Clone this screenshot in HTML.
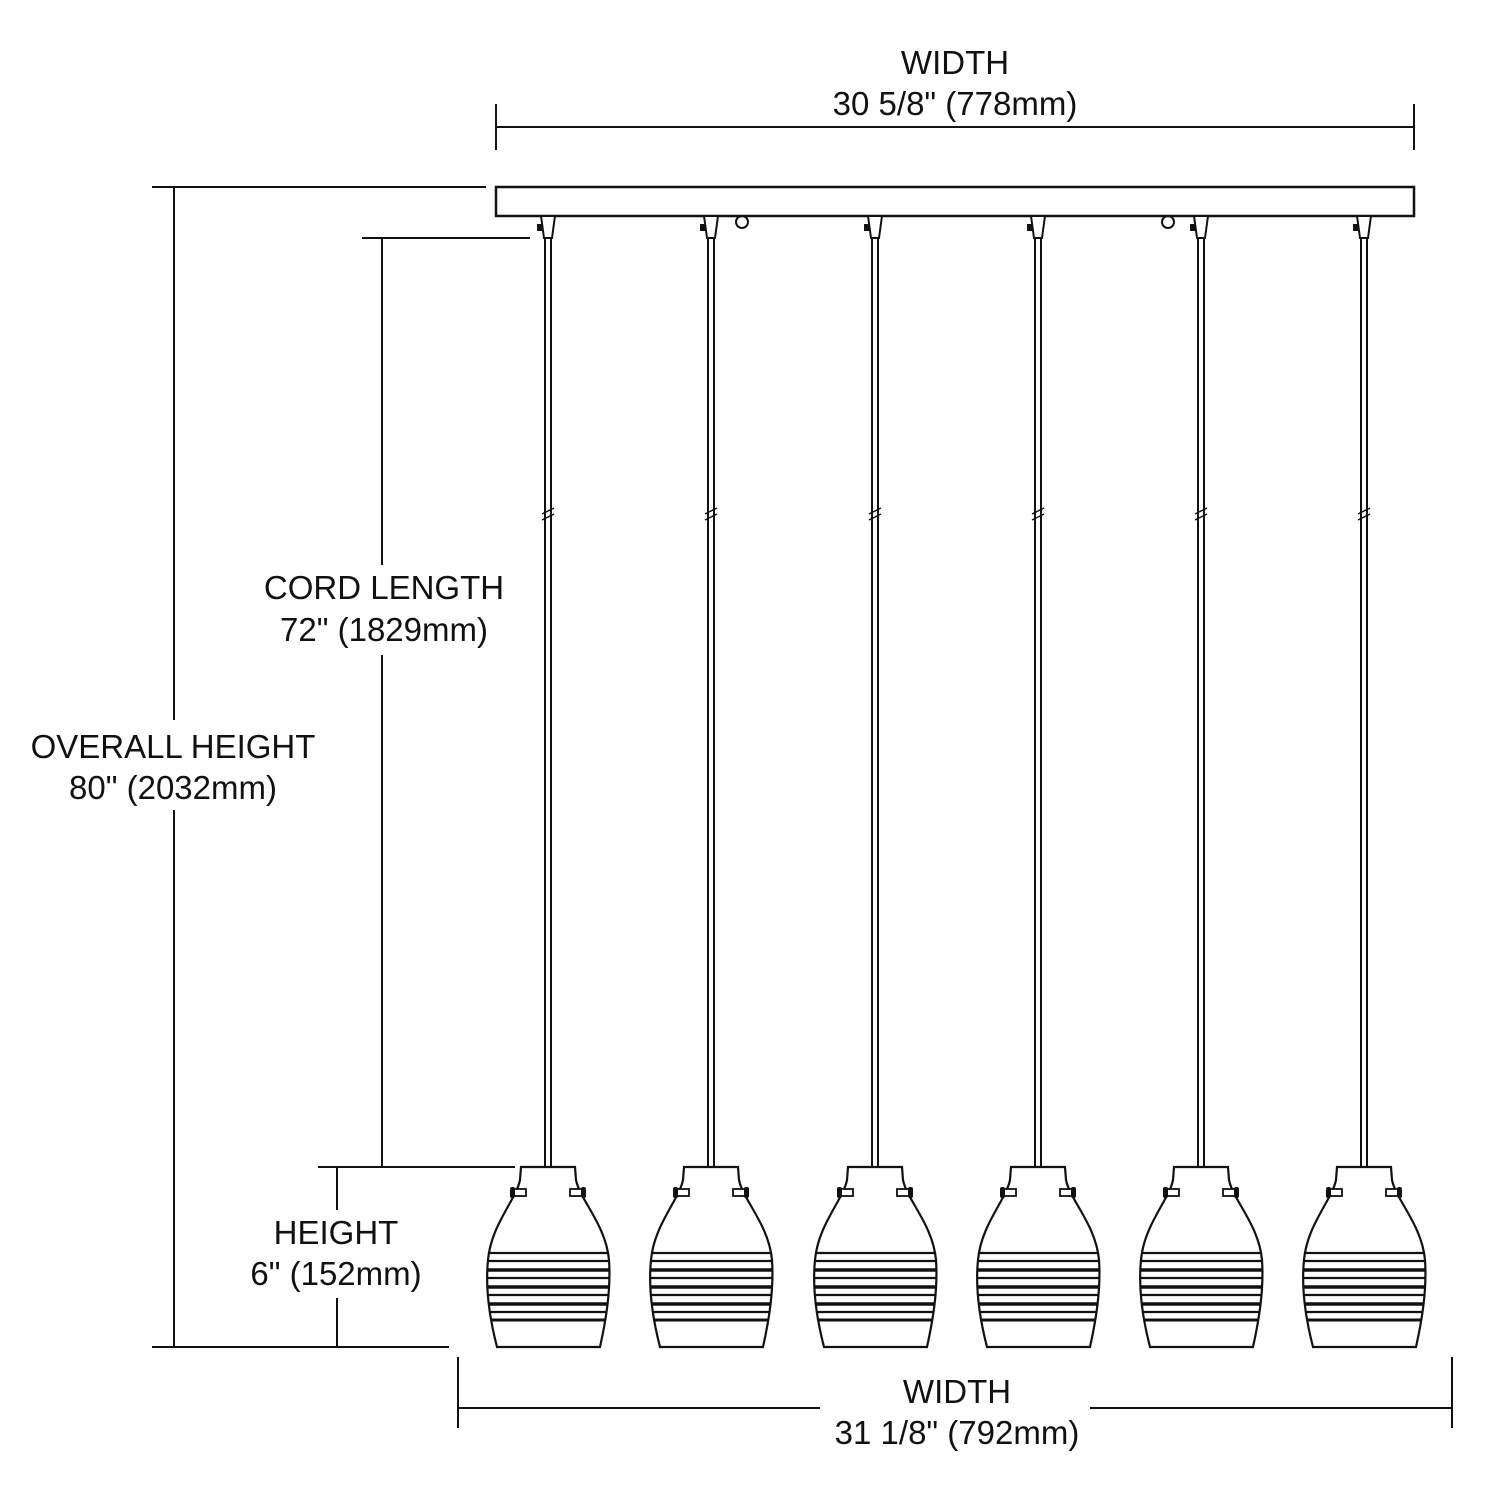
<!DOCTYPE html>
<html><head><style>
html,body{margin:0;padding:0;background:#fff}
svg{display:block}
text{font-family:"Liberation Sans",sans-serif;font-size:33px;fill:#111;text-anchor:middle}
</style></head><body>
<svg width="1485" height="1500" viewBox="0 0 1485 1500" xmlns="http://www.w3.org/2000/svg">
<defs>
<clipPath id="sc"><path d="M-27,1167 L27,1167 L28,1180 C32,1200 58,1225 61,1260 C63,1290 58,1320 52,1347 L-51,1347 C-58,1320 -63,1290 -60,1260 C-57,1225 -32,1200 -28,1180 Z"/></clipPath>
<g id="p" stroke="#111" fill="none">
  <path d="M-7,216 L7,216 L4,238 L-4,238 Z" stroke-width="2" fill="#fff"/>
  <rect x="-11" y="224" width="5" height="7" fill="#111" stroke="none"/>
  <line x1="-3" y1="238" x2="-3" y2="1167" stroke-width="2"/>
  <line x1="3" y1="238" x2="3" y2="1167" stroke-width="2"/>
  <line x1="-6" y1="514" x2="6" y2="508" stroke-width="1.5"/>
  <line x1="-6" y1="520" x2="6" y2="514" stroke-width="1.5"/>
  <g clip-path="url(#sc)">
    <g stroke-width="2.2">
      <line x1="-70" x2="70" y1="1253" y2="1253"/>
      <line x1="-70" x2="70" y1="1261" y2="1261"/>
      <line x1="-70" x2="70" y1="1270" y2="1270" stroke-width="3.5"/>
      <line x1="-70" x2="70" y1="1278" y2="1278"/>
      <line x1="-70" x2="70" y1="1287" y2="1287" stroke-width="3.5"/>
      <line x1="-70" x2="70" y1="1295" y2="1295"/>
      <line x1="-70" x2="70" y1="1304" y2="1304" stroke-width="3.5"/>
      <line x1="-70" x2="70" y1="1312" y2="1312"/>
      <line x1="-70" x2="70" y1="1320" y2="1320" stroke-width="3"/>
    </g>
  </g>
  <path d="M-27,1167 L27,1167 L28,1180 C32,1200 58,1225 61,1260 C63,1290 58,1320 52,1347 L-51,1347 C-58,1320 -63,1290 -60,1260 C-57,1225 -32,1200 -28,1180 Z" stroke-width="2.2"/>
  <rect x="-34" y="1189" width="12" height="7" fill="#fff" stroke-width="1.8"/>
  <rect x="-38" y="1187" width="5" height="11" rx="2" fill="#111" stroke="none"/>
  <rect x="22" y="1189" width="12" height="7" fill="#fff" stroke-width="1.8"/>
  <rect x="33" y="1187" width="5" height="11" rx="2" fill="#111" stroke="none"/>
</g>
</defs>
<g stroke="#111" stroke-width="2" fill="none">
  <rect x="496" y="187" width="918" height="29" stroke-width="2.5" fill="#fff"/>
  <circle cx="742" cy="222" r="6"/>
  <circle cx="1168" cy="222" r="6"/>
  <line x1="496" y1="127" x2="1414" y2="127"/>
  <line x1="496" y1="104" x2="496" y2="150"/>
  <line x1="1414" y1="104" x2="1414" y2="150"/>
  <line x1="152" y1="187" x2="486" y2="187"/>
  <line x1="152" y1="1347" x2="449" y2="1347"/>
  <line x1="174" y1="187" x2="174" y2="720"/>
  <line x1="174" y1="810" x2="174" y2="1347"/>
  <line x1="362" y1="238" x2="530" y2="238"/>
  <line x1="318" y1="1167" x2="515" y2="1167"/>
  <line x1="382" y1="238" x2="382" y2="565"/>
  <line x1="382" y1="655" x2="382" y2="1167"/>
  <line x1="337" y1="1167" x2="337" y2="1210"/>
  <line x1="337" y1="1298" x2="337" y2="1347"/>
  <line x1="458" y1="1357" x2="458" y2="1428"/>
  <line x1="1452" y1="1357" x2="1452" y2="1428"/>
  <line x1="458" y1="1408" x2="820" y2="1408"/>
  <line x1="1090" y1="1408" x2="1452" y2="1408"/>
</g>
<use href="#p" transform="translate(548,0)"/>
<use href="#p" transform="translate(711,0)"/>
<use href="#p" transform="translate(875,0)"/>
<use href="#p" transform="translate(1038,0)"/>
<use href="#p" transform="translate(1201,0)"/>
<use href="#p" transform="translate(1364,0)"/>
<text x="955" y="74">WIDTH</text>
<text x="955" y="115">30 5/8" (778mm)</text>
<text x="384" y="599">CORD LENGTH</text>
<text x="384" y="641">72" (1829mm)</text>
<text x="173" y="758">OVERALL HEIGHT</text>
<text x="173" y="799">80" (2032mm)</text>
<text x="336" y="1244">HEIGHT</text>
<text x="336" y="1285">6" (152mm)</text>
<text x="957" y="1403">WIDTH</text>
<text x="957" y="1444">31 1/8" (792mm)</text>
</svg>
</body></html>
